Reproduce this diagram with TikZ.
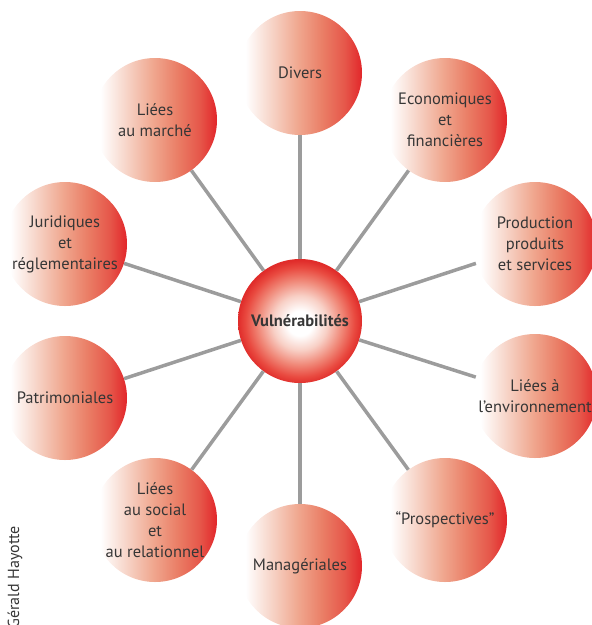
\documentclass[tikz,border=0pt]{standalone}
\usepackage{fontspec}
\setmainfont{PT Sans}
\definecolor{txt}{HTML}{363636}
\definecolor{linkc}{HTML}{9C9C9C}
\definecolor{pa}{HTML}{F7D6CA}
\definecolor{pb}{HTML}{F0A890}
\definecolor{pc}{HTML}{EA7E66}
\definecolor{pd}{HTML}{E6574A}
\definecolor{pe}{HTML}{E2262A}
\definecolor{ca}{HTML}{F8D0C6}
\definecolor{cb}{HTML}{F08878}
\definecolor{cc}{HTML}{E94A40}
\definecolor{cd}{HTML}{E02C2A}
\pgfdeclarehorizontalshading{perishade}{100bp}{color(0bp)=(white); color(28bp)=(white); color(38bp)=(pa); color(49bp)=(pb); color(59bp)=(pc); color(68bp)=(pd); color(75bp)=(pe); color(100bp)=(pe)}
\pgfdeclareradialshading{ballshade}{\pgfpoint{0bp}{-1bp}}{color(0bp)=(white); color(5bp)=(white); color(11bp)=(ca); color(17bp)=(cb); color(22bp)=(cc); color(25bp)=(cd); color(50bp)=(cd)}
\tikzset{
  perinode/.style={circle, minimum size=124pt, inner sep=0pt, shading=perishade, text=txt, font=\fontsize{16.5}{21}\selectfont, align=center},
  hubnode/.style={circle, minimum size=124pt, inner sep=0pt, shading=ballshade, text=txt, font=\fontsize{16.5}{18}\selectfont\bfseries},
  linkline/.style={draw=linkc, line width=3.5pt}
}
\begin{document}
\begin{tikzpicture}[x=1pt,y=-1pt]
\useasboundingbox (0,0) rectangle (592,625);
\clip (0,0) rectangle (592,625);
\node[hubnode] (hub) at (300,321) {Vulnérabilités};
\node[perinode] (divers) at (300,73) {Divers};
\node[perinode] (eco) at (445,120) {Economiques\\et\\financières};
\node[perinode] (prod) at (535,244) {Production\\produits\\et services};
\node[perinode] (envi) at (535,396) {Liées à\\l’environnement};
\node[perinode] (prosp) at (445,520) {“Prospectives”};
\node[perinode] (manag) at (300,566) {Managériales};
\node[perinode] (social) at (155,520) {Liées\\au social\\et\\au relationnel};
\node[perinode] (patri) at (65,398) {Patrimoniales};
\node[perinode] (jurid) at (65,244) {Juridiques\\et\\réglementaires};
\node[perinode] (marche) at (155,120) {Liées\\au marché};
\foreach \p in {divers,eco,prod,envi,prosp,manag,social,patri,jurid,marche}
  \draw[linkline] (hub) -- (\p);
\node[rotate=90, anchor=east, text=txt, font=\fontsize{16}{18}\selectfont, inner sep=0pt] (credit) at (15,526) {Gérald Hayotte};
\end{tikzpicture}
\end{document}
